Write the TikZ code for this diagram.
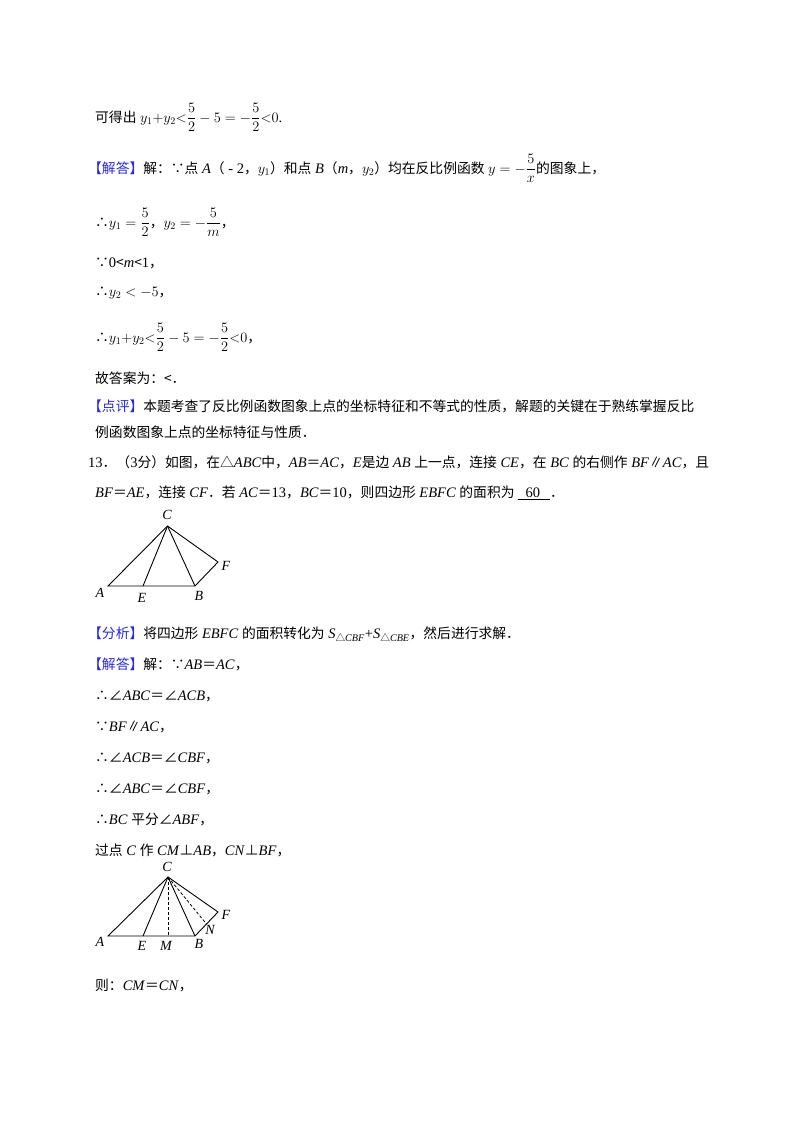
\documentclass[tikz,border=0pt]{standalone}
\usepackage{amsmath}
\usepackage{fontspec}
\setmainfont{Liberation Serif}
\newfontfamily\cjk{Noto Sans CJK SC}[Scale=0.95]
\newcommand\zh[1]{{\cjk #1}}
\definecolor{lbl}{RGB}{40,40,230}
\begin{document}
\begin{tikzpicture}[x=1pt,y=-1pt,
  tx/.style={anchor=base west,inner sep=0pt,font=\fontsize{14.5}{17}\selectfont},
  pt/.style={inner sep=0pt,font=\fontsize{14}{16}\selectfont\itshape},
  seg/.style={line width=0.9pt},
  dsh/.style={line width=0.8pt,dashed,dash pattern=on 3pt off 2pt}]
\useasboundingbox (0,0) rectangle (800,1132);
\fill[white] (0,0) rectangle (800,1132);
\node[tx] (l1) at (95,122) {\zh{可得出} $y_1{+}y_2{<}\dfrac{5}{2}-5=-\dfrac{5}{2}{<}0$.};
\node[tx] (l2) at (88,173) {\textcolor{lbl}{\zh{【解答】}}\zh{解：∵点} \textit{A}\zh{（} - 2\zh{，}$y_1$\zh{）和点} \textit{B}\zh{（}\textit{m}\zh{，}$y_2$\zh{）均在反比例函数} $y=-\dfrac{5}{x}$\zh{的图象上，}};
\node[tx] (l3) at (95,227) {\zh{∴}$y_1=\dfrac{5}{2}$\zh{，}$y_2=-\dfrac{5}{m}$\zh{，}};
\node[tx] (l4) at (95,267) {\zh{∵}0\zh{<}\textit{m}\zh{<}1\zh{，}};
\node[tx] (l5) at (95,296) {\zh{∴}$y_2<-5$\zh{，}};
\node[tx] (l6) at (95,342) {\zh{∴}$y_1{+}y_2{<}\dfrac{5}{2}-5=-\dfrac{5}{2}{<}0$\zh{，}};
\node[tx] (l7) at (95,383) {\zh{故答案为：<．}};
\node[tx] (l8) at (88,411) {\textcolor{lbl}{\zh{【点评】}}\zh{本题考查了反比例函数图象上点的坐标特征和不等式的性质，解题的关键在于熟练掌握反比}};
\node[tx] (l9) at (95,437) {\zh{例函数图象上点的坐标特征与性质．}};
\node[tx] (l10) at (88,467) {13\zh{．（}3\zh{分）如图，在△}\textit{ABC}\zh{中，}\textit{AB}\zh{＝}\textit{AC}\zh{，}\textit{E}\zh{是边} \textit{AB} \zh{上一点，连接} \textit{CE}\zh{，在} \textit{BC} \zh{的右侧作} \textit{BF}\zh{∥}\textit{AC}\zh{，且}};
\node[tx] (l11) at (95,497) {\textit{BF}\zh{＝}\textit{AE}\zh{，连接} \textit{CF}\zh{．若} \textit{AC}\zh{＝}13\zh{，}\textit{BC}\zh{＝}10\zh{，则四边形} \textit{EBFC} \zh{的面积为 }\underline{\hspace{8pt}60\hspace{10pt}}\zh{．}};
% figure 1
\coordinate (C1) at (167.5,526);
\coordinate (A1) at (108,586);
\coordinate (E1) at (143,586);
\coordinate (B1) at (195,586);
\coordinate (F1) at (218,562);
\draw[seg] (A1) -- (B1) -- (F1) -- (C1) -- cycle;
\draw[seg] (C1) -- (E1);
\draw[seg] (C1) -- (B1);
\node[pt] (tC1) at (167,515) {C};
\node[pt] (tF1) at (226,566) {F};
\node[pt] (tA1) at (100,593) {A};
\node[pt] (tE1) at (142,598) {E};
\node[pt] (tB1) at (199,596) {B};
\node[tx] (l12) at (88,638) {\textcolor{lbl}{\zh{【分析】}}\zh{将四边形} \textit{EBFC} \zh{的面积转化为}~\textit{S}\textsubscript{\zh{△}\textit{CBF}}+\textit{S}\textsubscript{\zh{△}\textit{CBE}}\zh{，然后进行求解．}};
\node[tx] (l13) at (88,669) {\textcolor{lbl}{\zh{【解答】}}\zh{解：∵}\textit{AB}\zh{＝}\textit{AC}\zh{，}};
\node[tx] (l14) at (95,700) {\zh{∴∠}\textit{ABC}\zh{＝∠}\textit{ACB}\zh{，}};
\node[tx] (l15) at (95,731) {\zh{∵}\textit{BF}\zh{∥}\textit{AC}\zh{，}};
\node[tx] (l16) at (95,762) {\zh{∴∠}\textit{ACB}\zh{＝∠}\textit{CBF}\zh{，}};
\node[tx] (l17) at (95,793) {\zh{∴∠}\textit{ABC}\zh{＝∠}\textit{CBF}\zh{，}};
\node[tx] (l18) at (95,824) {\zh{∴}\textit{BC} \zh{平分∠}\textit{ABF}\zh{，}};
\node[tx] (l19) at (95,855) {\zh{过点} \textit{C} \zh{作} \textit{CM}\zh{⊥}\textit{AB}\zh{，}\textit{CN}\zh{⊥}\textit{BF}\zh{，}};
% figure 2
\coordinate (C2) at (168,877);
\coordinate (A2) at (108,936);
\coordinate (E2) at (143,936);
\coordinate (M2) at (168,936);
\coordinate (B2) at (195,936);
\coordinate (F2) at (218,912);
\coordinate (N2) at (206.5,924);
\draw[seg] (A2) -- (B2) -- (F2) -- (C2) -- cycle;
\draw[seg] (C2) -- (E2);
\draw[seg] (C2) -- (B2);
\draw[dsh] (C2) -- (M2);
\draw[dsh] (C2) -- (N2);
\node[pt] (tC2) at (167,867) {C};
\node[pt] (tF2) at (226,915) {F};
\node[pt] (tN2) at (210,930) {N};
\node[pt] (tA2) at (100,942) {A};
\node[pt] (tE2) at (142,946) {E};
\node[pt] (tM2) at (166,946) {M};
\node[pt] (tB2) at (199,944) {B};
\node[tx] (l20) at (95,990) {\zh{则：}\textit{CM}\zh{＝}\textit{CN}\zh{，}};
\end{tikzpicture}
\end{document}
